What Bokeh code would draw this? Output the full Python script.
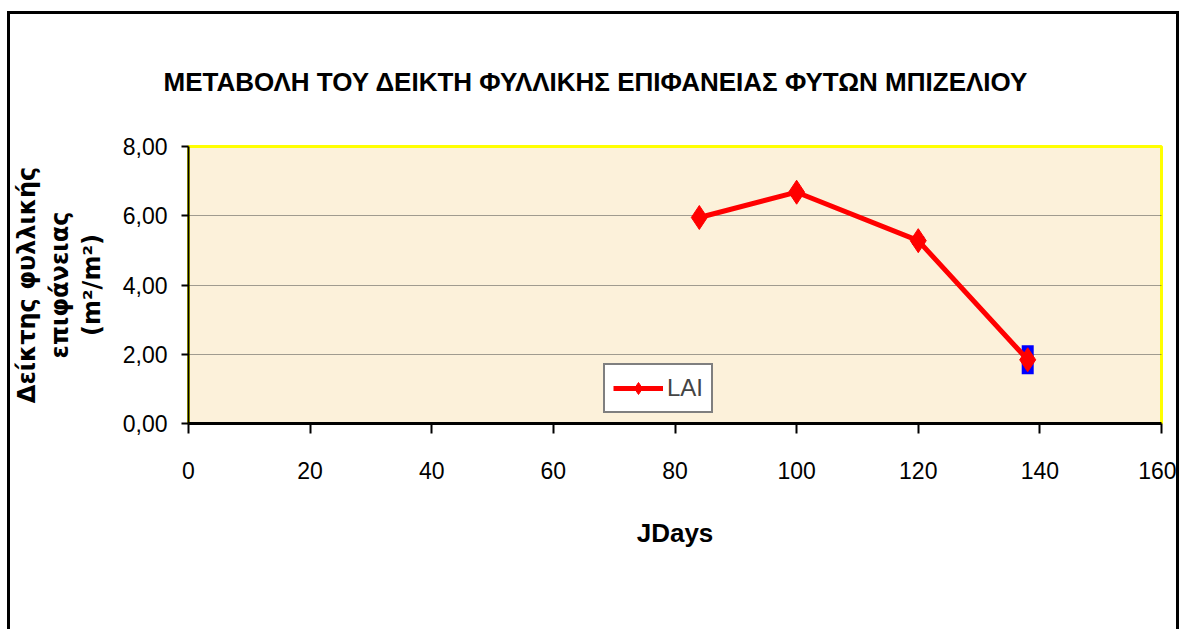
from bokeh.plotting import figure
from bokeh.models import Range1d, Legend, LegendItem, FixedTicker, CustomJSTickFormatter
from bokeh.embed import file_html
from bokeh.resources import INLINE

# ---- data ----
jdays = [84, 100, 120, 138]
lai = [5.95, 6.68, 5.28, 1.84]
lai_err = [0.02, 0.08, 0.12, 0.42]
x_ticks = [0, 20, 40, 60, 80, 100, 120, 140, 160]
y_ticks = [0, 2, 4, 6, 8]
title_text = "ΜΕΤΑΒΟΛΗ ΤΟΥ ΔΕΙΚΤΗ ΦΥΛΛΙΚΗΣ ΕΠΙΦΑΝΕΙΑΣ ΦΥΤΩΝ ΜΠΙΖΕΛΙΟΥ"
ylabel_lines = ["Δείκτης φυλλικής", "επιφάνειας", "(m²/m²)"]
xlabel_text = "JDays"
series_name = "LAI"

SANS = "Liberation Sans"

p = figure(width=1162, height=614, output_backend="svg", toolbar_location=None,
           x_range=Range1d(0, 160), y_range=Range1d(0, 8),
           min_border_left=174, min_border_right=15, min_border_top=131, min_border_bottom=206,
           frame_width=973, frame_height=277)
p.styles = {"border-left": "3px solid black", "border-top": "3px solid black",
            "border-right": "3px solid black", "margin-left": "7px", "margin-top": "11px"}

p.background_fill_color = "#FCF1DA"
p.border_fill_color = "white"
p.outline_line_color = "#FFFF00"
p.outline_line_width = 3

# title
p.title.text = title_text
p.title.text_font = SANS
p.title.text_font_style = "bold"
p.title.text_font_size = "26px"
p.title.text_color = "black"
p.title.align = "left"
p.title.offset = -25
p.title.standoff = 100

# grid
p.xgrid.grid_line_color = None
p.ygrid.ticker = FixedTicker(ticks=y_ticks)
p.ygrid.grid_line_color = "#444444"
p.ygrid.grid_line_dash = "1 1"
p.ygrid.grid_line_width = 1

# axes
p.xaxis.ticker = FixedTicker(ticks=x_ticks)
p.yaxis.ticker = FixedTicker(ticks=y_ticks)
p.yaxis.formatter = CustomJSTickFormatter(code="return tick.toFixed(2).replace('.', ',');")
for ax in (p.xaxis[0], p.yaxis[0]):
    ax.axis_line_color = "black"
    ax.major_tick_line_color = "black"
    ax.major_tick_line_width = 2
    ax.minor_tick_line_color = None
    ax.major_tick_in = 0
    ax.major_label_text_font = SANS
    ax.major_label_text_font_size = "23px"
    ax.major_label_text_color = "black"
p.xaxis.axis_line_width = 3
p.yaxis.axis_line_width = 2
p.xaxis.major_tick_out = 10
p.yaxis.major_tick_out = 7
p.xaxis.major_label_standoff = 28
p.yaxis.major_label_standoff = 14

p.xaxis.axis_label = xlabel_text
p.xaxis.axis_label_text_font = SANS
p.xaxis.axis_label_text_font_style = "bold"
p.xaxis.axis_label_text_font_size = "26px"
p.xaxis.axis_label_text_color = "black"
p.xaxis.axis_label_standoff = 36

p.yaxis.axis_label = "\n".join(ylabel_lines)
p.yaxis.axis_label_text_font = "DejaVu Sans"
p.yaxis.axis_label_text_font_style = "bold"
p.yaxis.axis_label_text_font_size = "24px"
p.yaxis.axis_label_text_color = "black"
p.yaxis.axis_label_text_line_height = 1.15
p.yaxis.axis_label_standoff = 14

# error bars
y_lo = [v - e for v, e in zip(lai, lai_err)]
y_hi = [v + e for v, e in zip(lai, lai_err)]
p.segment(x0=jdays, y0=y_lo, x1=jdays, y1=y_hi, line_color="#0000FF", line_width=12)

# series
line_r = p.line(jdays, lai, line_color="#FF0000", line_width=5)
mark_r = p.scatter(jdays, lai, marker="diamond", size=24, fill_color="#FF0000",
                   line_color="#FF0000")

legend = Legend(items=[LegendItem(label=series_name, renderers=[line_r, mark_r])],
                location=(415, 10), orientation="vertical",
                label_text_font=SANS, label_text_font_size="24px",
                glyph_width=50, glyph_height=30, label_standoff=4,
                padding=8, margin=0, spacing=0,
                border_line_color="black", border_line_width=2,
                background_fill_color="white", background_fill_alpha=1)
p.add_layout(legend, "center")

open("out.html", "w").write(file_html(p, INLINE))
